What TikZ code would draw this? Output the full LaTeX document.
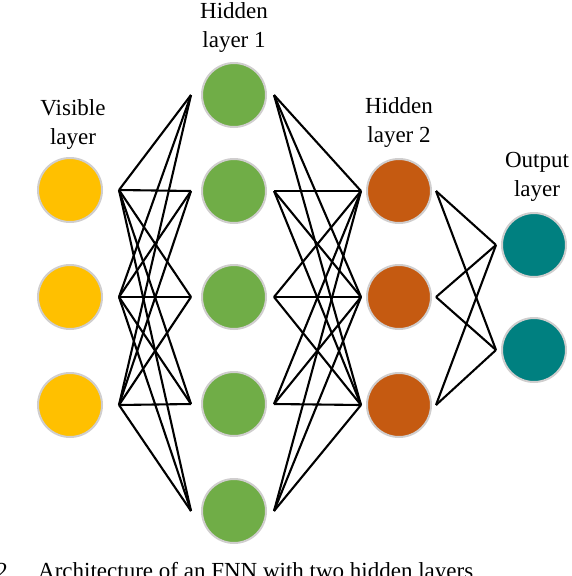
\documentclass[tikz,border=0pt]{standalone}
\usepackage{fontspec}
\setmainfont{Liberation Serif}
\usetikzlibrary{positioning}
\definecolor{visyellow}{HTML}{FFC000}
\definecolor{hidgreen}{HTML}{70AD47}
\definecolor{hidorange}{HTML}{C55A11}
\definecolor{outteal}{HTML}{008080}
\definecolor{ringgray}{HTML}{D0CECE}
\begin{document}
\begin{tikzpicture}[x=1pt, y=-1pt,
  neuron/.style={circle, draw=ringgray, line width=2pt, minimum size=64pt, inner sep=0pt},
  conn/.style={line width=2.1pt},
  lbl/.style={align=center, inner sep=0pt, font=\fontsize{23}{29}\selectfont}]
\useasboundingbox (0,0) rectangle (572,576);
% neurons
\foreach \y [count=\i] in {190,297,405} \node[neuron, fill=visyellow] (v\i) at (70,\y) {};
\foreach \y [count=\i] in {95,191,297,404,511} \node[neuron, fill=hidgreen] (h\i) at (234,\y) {};
\foreach \y [count=\i] in {191,297,405} \node[neuron, fill=hidorange] (k\i) at (399,\y) {};
\foreach \y [count=\i] in {245,350} \node[neuron, fill=outteal] (o\i) at (534,\y) {};
% layer names
\node[lbl, above=7pt of v1, xshift=3pt] (vname) {Visible\\layer};
\node[lbl, above=9pt of h1] (hname) {Hidden\\layer 1};
\node[lbl, above=10pt of k1] (kname) {Hidden\\layer 2};
\node[lbl, above=10pt of o1, xshift=3pt] (oname) {Output\\layer};
% connections
\foreach \i in {1,2,3} \foreach \j in {1,...,5}
  \draw[conn] ([xshift=16pt]v\i.east) -- ([xshift=-10pt]h\j.west);
\foreach \i in {1,...,5} \foreach \j in {1,2,3}
  \draw[conn] ([xshift=7pt]h\i.east) -- ([xshift=-5pt]k\j.west);
\foreach \i in {1,2,3} \foreach \j in {1,2}
  \draw[conn] ([xshift=4pt]k\i.east) -- ([xshift=-5pt]o\j.west);
% caption
\node[lbl, anchor=base east] (capnum) at (8,578) {2};
\node[lbl, anchor=base west] (captext) at (38,578) {Architecture of an FNN with two hidden layers};
\end{tikzpicture}
\end{document}
